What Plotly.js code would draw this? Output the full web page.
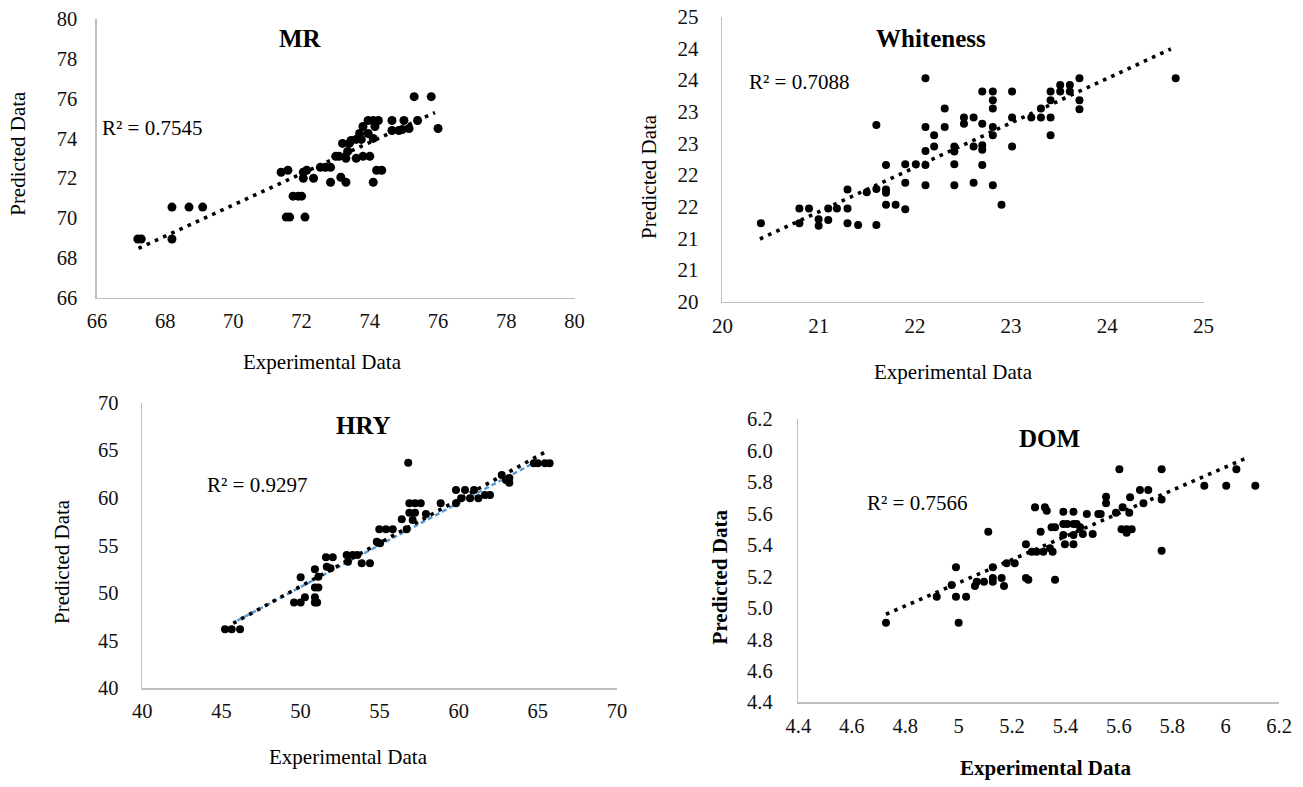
<!DOCTYPE html>
<html>
<head>
<meta charset="utf-8">
<script src="https://cdn.plot.ly/plotly-3.0.1.min.js"></script>
<style>html,body{margin:0;padding:0;background:#fff;}#chart{width:1303px;height:787px;}</style>
</head>
<body>
<div id="chart"></div>
<script>
// ---------- Data ----------
const mrX = [67.2, 67.3, 68.2, 68.2, 68.7, 69.1, 71.55, 71.65, 72.1, 71.75, 71.9, 72.0, 71.4, 71.6, 72.05, 72.15, 72.05, 72.35, 72.55, 72.7, 72.85, 72.85, 73.15, 73.3, 73.0, 73.1, 73.3, 73.35, 73.2, 73.4, 73.6, 73.8, 74.0, 73.45, 73.6, 73.75, 73.7, 73.95, 73.8, 73.95, 74.1, 74.25, 74.15, 74.1, 74.1, 74.2, 74.35, 74.65, 74.65, 74.85, 74.95, 75.0, 75.15, 75.3, 75.4, 75.8, 76.0];
const mrY = [68.95, 68.95, 68.95, 70.55, 70.55, 70.55, 70.05, 70.05, 70.05, 71.1, 71.1, 71.1, 72.3, 72.4, 72.3, 72.4, 72.0, 72.0, 72.55, 72.55, 72.55, 71.8, 72.05, 71.8, 73.1, 73.1, 73.0, 73.35, 73.75, 73.75, 73.0, 73.1, 73.1, 73.9, 73.95, 73.95, 74.25, 74.25, 74.6, 74.9, 74.9, 74.9, 74.6, 74.0, 71.8, 72.4, 72.4, 74.9, 74.4, 74.4, 74.45, 74.9, 74.5, 76.1, 74.9, 76.1, 74.5];
const mrTrendX = [67.22, 75.91];
const mrTrendY = [68.48, 75.30];
const mrTicks = [66, 68, 70, 72, 74, 76, 78, 80];

const whX = [20.40, 20.80, 20.90, 20.80, 21.00, 21.00, 21.10, 21.10, 21.19, 21.30, 21.30, 21.30, 21.41, 21.50, 21.60, 21.60, 21.60, 21.70, 21.70, 21.70, 21.70, 21.80, 21.90, 22.01, 21.90, 21.90, 22.11, 22.11, 22.11, 22.11, 22.11, 22.20, 22.20, 22.31, 22.31, 22.41, 22.41, 22.41, 22.41, 22.51, 22.51, 22.61, 22.61, 22.61, 22.70, 22.70, 22.70, 22.70, 22.70, 22.81, 22.81, 22.81, 22.81, 22.81, 22.81, 22.90, 23.01, 23.01, 23.01, 23.21, 23.31, 23.31, 23.41, 23.41, 23.41, 23.41, 23.51, 23.51, 23.61, 23.61, 23.71, 23.71, 23.71, 24.71];
const whY = [21.24, 21.47, 21.47, 21.24, 21.30, 21.20, 21.29, 21.47, 21.47, 21.47, 21.77, 21.24, 21.21, 21.73, 21.78, 22.79, 21.21, 21.77, 21.72, 22.16, 21.53, 21.53, 22.17, 22.17, 21.88, 21.46, 23.53, 22.76, 22.38, 22.16, 21.84, 22.63, 22.45, 23.05, 22.76, 22.45, 22.37, 22.17, 21.84, 22.91, 22.81, 22.91, 22.45, 21.88, 23.32, 22.81, 22.47, 22.40, 22.16, 23.32, 23.18, 23.05, 22.76, 22.63, 21.84, 21.53, 23.32, 22.91, 22.45, 22.91, 22.91, 23.05, 22.91, 23.18, 23.32, 22.63, 23.42, 23.32, 23.42, 23.32, 23.53, 23.18, 23.04, 23.53];
const whTrendX = [20.39, 24.66];
const whTrendY = [20.99, 23.99];
const whXTicks = [20, 21, 22, 23, 24, 25];
const whYTickVals = [20, 20.5, 21, 21.5, 22, 22.5, 23, 23.5, 24, 24.5];
const whYTickText = ['20', '21', '21', '22', '22', '23', '23', '24', '24', '25'];

const hryX = [45.23, 45.65, 46.18, 49.59, 50.01, 50.28, 50.91, 50.91, 51.05, 50.01, 50.91, 51.13, 50.91, 51.13, 51.66, 51.9, 51.61, 52.04, 52.92, 53.3, 53.59, 53.0, 53.87, 54.39, 54.82, 55.03, 54.98, 55.4, 55.83, 56.4, 56.71, 56.81, 56.88, 57.24, 57.6, 56.88, 57.24, 57.09, 57.93, 58.86, 59.83, 60.4, 60.97, 59.83, 60.15, 60.72, 61.24, 61.66, 61.98, 62.72, 62.99, 63.2, 63.2, 64.75, 65.0, 65.45, 65.75];
const hryY = [46.2, 46.2, 46.2, 49.0, 49.0, 49.56, 49.0, 49.56, 49.0, 51.66, 50.6, 50.6, 52.5, 51.73, 52.77, 52.6, 53.76, 53.76, 54.0, 54.0, 54.0, 53.3, 53.13, 53.13, 55.4, 55.23, 56.7, 56.7, 56.7, 57.75, 56.7, 63.7, 59.43, 59.43, 59.43, 58.45, 58.45, 57.68, 58.31, 59.43, 60.83, 60.83, 60.83, 59.43, 59.96, 59.96, 59.96, 60.31, 60.31, 62.4, 61.88, 61.6, 62.1, 63.63, 63.63, 63.63, 63.63];
const hryTrendX = [45.75, 65.5];
const hryTrendY = [46.83, 64.85];
const hryFitX = [46.0, 65.1];
const hryFitY = [47.1, 63.98];
const hryTicks = [40, 45, 50, 55, 60, 65, 70];

const domX = [4.728, 5.0, 4.918, 4.99, 5.028, 4.974, 4.99, 5.111, 5.061, 5.068, 5.095, 5.128, 5.128, 5.128, 5.161, 5.17, 5.18, 5.21, 5.252, 5.252, 5.261, 5.274, 5.292, 5.317, 5.286, 5.323, 5.33, 5.307, 5.342, 5.352, 5.348, 5.361, 5.392, 5.407, 5.43, 5.442, 5.392, 5.43, 5.361, 5.392, 5.43, 5.398, 5.43, 5.455, 5.465, 5.48, 5.502, 5.523, 5.532, 5.552, 5.552, 5.589, 5.602, 5.614, 5.639, 5.61, 5.629, 5.648, 5.629, 5.642, 5.692, 5.679, 5.71, 5.76, 5.76, 5.76, 5.92, 6.002, 6.04, 6.111];
const domY = [4.906, 4.906, 5.072, 5.072, 5.072, 5.146, 5.259, 5.485, 5.14, 5.167, 5.167, 5.19, 5.167, 5.259, 5.19, 5.14, 5.284, 5.284, 5.405, 5.19, 5.18, 5.358, 5.358, 5.358, 5.64, 5.64, 5.619, 5.485, 5.38, 5.358, 5.513, 5.513, 5.534, 5.534, 5.534, 5.534, 5.612, 5.612, 5.18, 5.464, 5.464, 5.405, 5.405, 5.513, 5.47, 5.598, 5.47, 5.598, 5.598, 5.708, 5.666, 5.606, 5.882, 5.64, 5.606, 5.5, 5.5, 5.5, 5.479, 5.704, 5.666, 5.75, 5.75, 5.882, 5.69, 5.364, 5.778, 5.778, 5.882, 5.778];
const domTrendX = [4.728, 6.081];
const domTrendY = [4.96, 5.956];
const domTickVals = [4.4, 4.6, 4.8, 5.0, 5.2, 5.4, 5.6, 5.8, 6.0, 6.2];
const domXTickText = ['4.4', '4.6', '4.8', '5', '5.2', '5.4', '5.6', '5.8', '6', '6.2'];
const domYTickText = ['4.4', '4.6', '4.8', '5.0', '5.2', '5.4', '5.6', '5.8', '6.0', '6.2'];

const titles = ['MR', 'Whiteness', 'HRY', 'DOM'];
const r2Labels = ['R² = 0.7545', 'R² = 0.7088', 'R² = 0.9297', 'R² = 0.7566'];
const xTitle = 'Experimental Data';
const yTitle = 'Predicted Data';

// ---------- Rendering ----------
const W = 1303, H = 787;
const FONT = 'Liberation Serif';
const px = x => x / W;
const py = y => 1 - y / H;

function pts(x, y, xa, ya, size) {
  return {x: x, y: y, xaxis: xa, yaxis: ya, type: 'scatter', mode: 'markers',
    marker: {color: '#000', size: size, line: {width: 0}}, hoverinfo: 'x+y'};
}
function trend(x, y, xa, ya) {
  return {x: x, y: y, xaxis: xa, yaxis: ya, type: 'scatter', mode: 'lines',
    line: {color: '#000', width: 3.6, dash: '3.6px,5.4px'}, hoverinfo: 'skip'};
}

const traces = [
  trend(mrTrendX, mrTrendY, 'x', 'y'),
  pts(mrX, mrY, 'x', 'y', 9),
  trend(whTrendX, whTrendY, 'x2', 'y2'),
  pts(whX, whY, 'x2', 'y2', 8),
  {x: hryFitX, y: hryFitY, xaxis: 'x3', yaxis: 'y3', type: 'scatter', mode: 'lines',
   line: {color: '#5B9BD5', width: 2.5, dash: '5px,3px'}, hoverinfo: 'skip'},
  trend(hryTrendX, hryTrendY, 'x3', 'y3'),
  pts(hryX, hryY, 'x3', 'y3', 8),
  trend(domTrendX, domTrendY, 'x4', 'y4'),
  pts(domX, domY, 'x4', 'y4', 8)
];

function axis(dom, range, vals, text, anchor, standoff, fsize) {
  return {domain: dom, range: range, anchor: anchor, showgrid: false, zeroline: false,
    showline: true, linecolor: '#bfbfbf', linewidth: 1.6, ticks: '',
    tickmode: 'array', tickvals: vals, ticktext: text,
    tickfont: {family: FONT, size: fsize, color: '#111'}, fixedrange: true,
    ticklabelstandoff: standoff};
}
const S = v => v.map(String);

// plot areas in pixels: [left, right, top, bottom]
const boxes = [
  [96.9, 574.5, 19.0, 297.7],
  [722.4, 1203.6, 16.7, 301.7],
  [142.3, 616.9, 402.7, 688.3],
  [798.4, 1279.1, 419.3, 702.3]
];
const xd = b => [px(b[0]), px(b[1])];
const yd = b => [py(b[3]), py(b[2])];

const layout = {
  width: W, height: H, margin: {l: 0, r: 0, t: 0, b: 0},
  paper_bgcolor: '#fff', plot_bgcolor: '#fff', showlegend: false,
  font: {family: FONT, color: '#000'},
  xaxis:  axis(xd(boxes[0]), [66, 80], mrTicks, S(mrTicks), 'y', 4, 20.5),
  yaxis:  axis(yd(boxes[0]), [66, 80], mrTicks, S(mrTicks), 'x', 14, 20.5),
  xaxis2: axis(xd(boxes[1]), [20, 25], whXTicks, S(whXTicks), 'y2', 4, 21),
  yaxis2: axis(yd(boxes[1]), [20, 24.5], whYTickVals, whYTickText, 'x2', 18, 21),
  xaxis3: axis(xd(boxes[2]), [40, 70], hryTicks, S(hryTicks), 'y3', 3, 20.5),
  yaxis3: axis(yd(boxes[2]), [40, 70], hryTicks, S(hryTicks), 'x3', 18, 20.5),
  xaxis4: axis(xd(boxes[3]), [4.4, 6.2], domTickVals, domXTickText, 'y4', 4, 20.5),
  yaxis4: axis(yd(boxes[3]), [4.4, 6.2], domTickVals, domYTickText, 'x4', 20, 20.5),
  annotations: []
};

function ann(text, x, y, font, opts) {
  return Object.assign({text: text, x: px(x), y: py(y), xref: 'paper', yref: 'paper',
    showarrow: false, xanchor: 'center', yanchor: 'middle', font: font}, opts || {});
}
const titlePos = [[300.5, 38.3], [931.4, 38.3], [363.8, 425], [1049.5, 438.3]];
const r2Pos = [[100, 128], [746.7, 81.7], [205, 485], [865, 503.3]];
const xtPos = [[322.3, 361.7], [953.2, 371.7], [348, 756.7], [1045.5, 768.3]];
const ytPos = [[17.8, 153], [648.3, 176.7], [61.3, 561.7], [719.7, 576.7]];
for (let i = 0; i < 4; i++) {
  layout.annotations.push(ann('<b>' + titles[i] + '</b>', titlePos[i][0], titlePos[i][1],
    {family: FONT, size: 25, color: '#000'}));
  layout.annotations.push(ann(r2Labels[i], r2Pos[i][0], r2Pos[i][1],
    {family: FONT, size: 21, color: '#000'}, {xanchor: 'left'}));
  const bold = (i === 3);
  const f = {family: FONT, size: 21, color: '#000'};
  layout.annotations.push(ann(bold ? '<b>' + xTitle + '</b>' : xTitle, xtPos[i][0], xtPos[i][1], f));
  layout.annotations.push(ann(bold ? '<b>' + yTitle + '</b>' : yTitle, ytPos[i][0], ytPos[i][1], f, {textangle: -90}));
}

Plotly.newPlot('chart', traces, layout, {displayModeBar: false, staticPlot: true});
</script>
</body>
</html>
